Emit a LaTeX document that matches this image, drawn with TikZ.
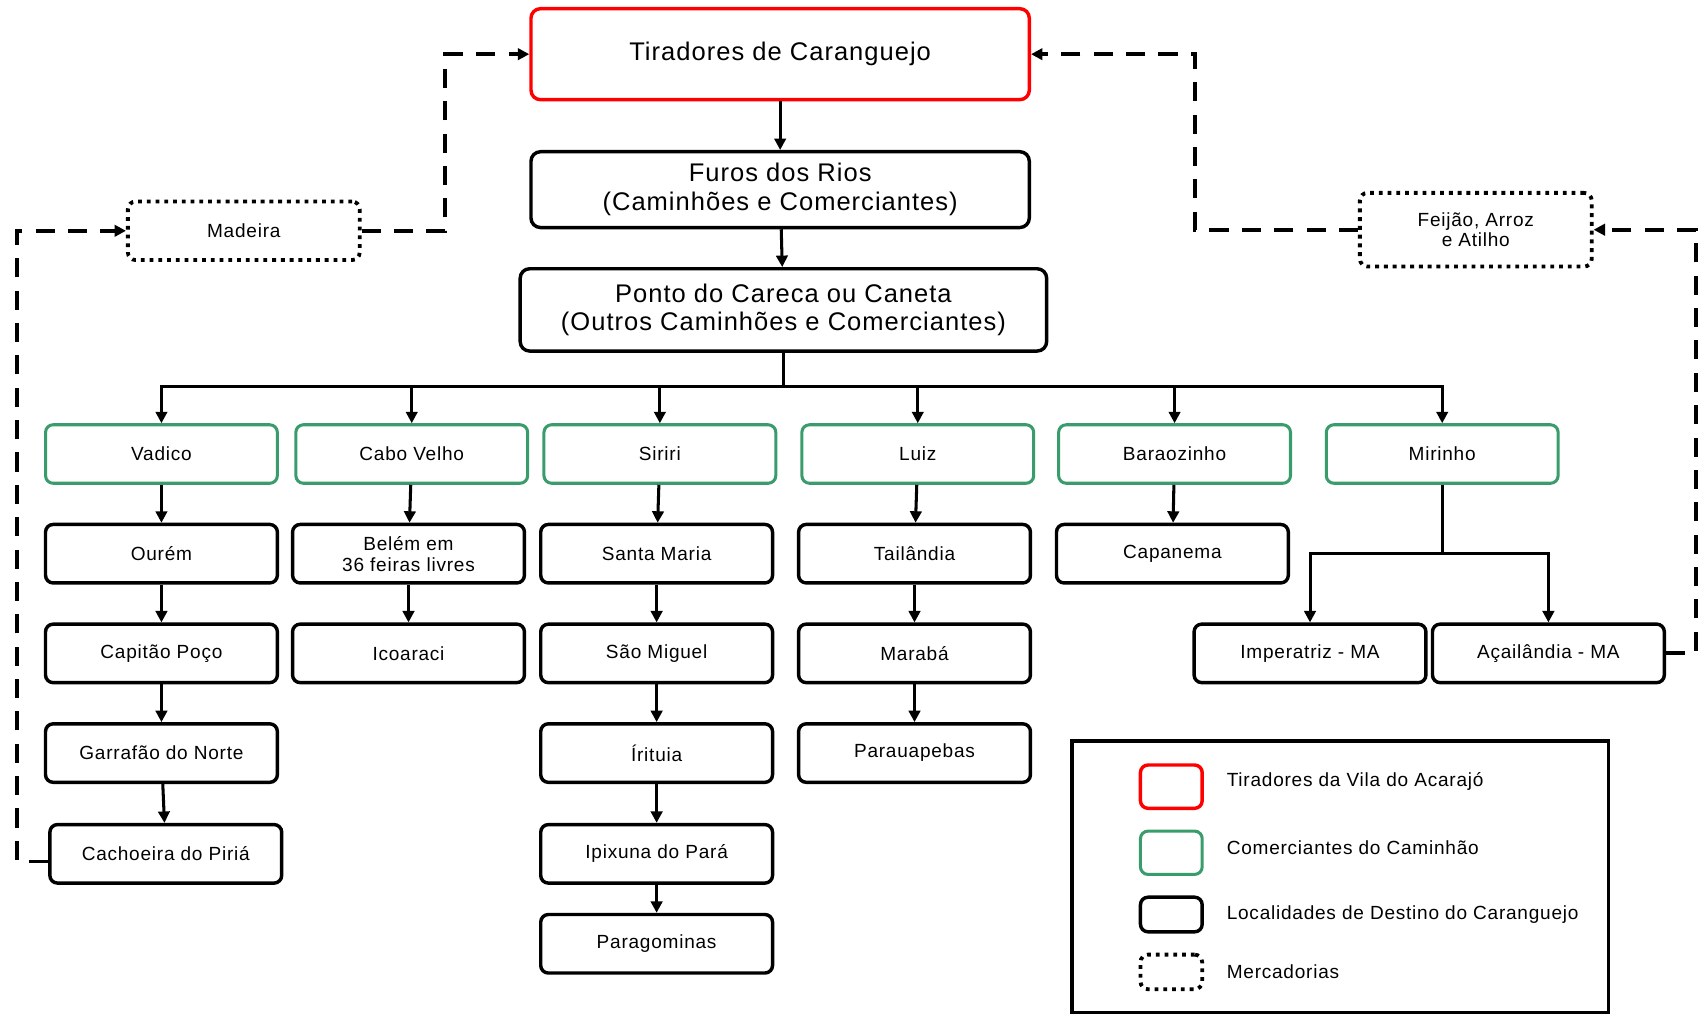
\documentclass[tikz,border=0pt]{standalone}
\usepackage{fontspec}
\setmainfont{Liberation Sans}[LetterSpace=4]
\usepackage{tikz}
\usetikzlibrary{arrows.meta}
\definecolor{tradegreen}{RGB}{58,156,108}

\begin{document}
\begin{tikzpicture}[x=0.02cm, y=-0.02cm,
	place/.style={draw=black, line width=1.8pt, rounded corners=4pt, minimum width=4.28cm, minimum height=1.08cm, align=center, font=\fontsize{10}{11}\selectfont},
	trader/.style={place, draw=tradegreen, line width=1.6pt},
	hub/.style={place, rounded corners=5pt, minimum width=9.2cm, minimum height=1.4cm, font=\fontsize{13.4}{15}\selectfont},
	goods/.style={place, line width=2pt, dash pattern=on 2pt off 2.6pt},
	flow/.style={-{Triangle[length=6pt,width=6pt]}, line width=1.6pt},
	trade/.style={-{Triangle[length=6pt,width=6pt]}, line width=2pt, dash pattern=on 10pt off 7pt},
	key/.style={anchor=west, font=\fontsize{10}{11}\selectfont}]

	\useasboundingbox (0,0) rectangle (1568,936);

	\node[hub, draw=red, line width=1.8pt, minimum height=1.68cm] (tir) at (720, 50) {Tiradores de Caranguejo};
	\node[hub] (furos) at (720, 175) {Furos dos Rios\\(Caminhões e Comerciantes)};
	\node[hub, minimum width=9.72cm, minimum height=1.52cm] (ponto) at (723, 286) {Ponto do Careca ou Caneta\\(Outros Caminhões e Comerciantes)};

	\node[goods] (mad) at (225, 213) {Madeira};
	\node[goods, minimum height=1.36cm] (fei) at (1362, 212) {Feijão, Arroz\\e Atilho};

	\node[trader] (vad) at (149, 419) {Vadico};
	\node[trader] (cabo) at (380, 419) {Cabo Velho};
	\node[trader] (sir) at (609, 419) {Siriri};
	\node[trader] (luiz) at (847, 419) {Luiz};
	\node[trader] (bar) at (1084, 419) {Baraozinho};
	\node[trader] (mir) at (1331, 419) {Mirinho};

	\node[place] (our) at (149, 511) {Ourém};
	\node[place] (bel) at (377, 511) {Belém em\\36 feiras livres};
	\node[place] (sta) at (606, 511) {Santa Maria};
	\node[place] (tai) at (844, 511) {Tailândia};
	\node[place] (cpn) at (1082, 511) {Capanema};

	\node[place] (cpp) at (149, 603) {Capitão Poço};
	\node[place] (ico) at (377, 603) {Icoaraci};
	\node[place] (sao) at (606, 603) {São Miguel};
	\node[place] (mab) at (844, 603) {Marabá};
	\node[place] (imp) at (1209, 603) {Imperatriz - MA};
	\node[place] (aca) at (1429, 603) {Açailândia - MA};

	\node[place] (gar) at (149, 695) {Garrafão do Norte};
	\node[place] (iri) at (606, 695) {Írituia};
	\node[place] (pau) at (844, 695) {Parauapebas};

	\node[place] (cac) at (153, 788) {Cachoeira do Piriá};
	\node[place] (ipi) at (606, 788) {Ipixuna do Pará};

	\node[place] (pgm) at (606, 871) {Paragominas};

	% trunk and branches
	\coordinate (bus) at (723, 357);
	\coordinate (mirj) at (1331, 511);
	\path[flow] (tir) edge (furos);
	\path[flow] (furos) edge (ponto);
	\draw[line width=1.6pt] (ponto) -- (bus);
	\foreach \t in {vad, cabo, sir, luiz, bar, mir}
		\draw[flow] (bus) -| (\t);
	\draw[line width=1.6pt] (mir) -- (mirj);
	\draw[flow] (mirj) -| (imp);
	\draw[flow] (mirj) -| (aca);

	\path[flow] (vad) edge (our);
	\path[flow] (our) edge (cpp);
	\path[flow] (cpp) edge (gar);
	\path[flow] (gar) edge (cac);
	\path[flow] (cabo) edge (bel);
	\path[flow] (bel) edge (ico);
	\path[flow] (sir) edge (sta);
	\path[flow] (sta) edge (sao);
	\path[flow] (sao) edge (iri);
	\path[flow] (iri) edge (ipi);
	\path[flow] (ipi) edge (pgm);
	\path[flow] (luiz) edge (tai);
	\path[flow] (tai) edge (mab);
	\path[flow] (mab) edge (pau);
	\path[flow] (bar) edge (cpn);

	% goods going back
	\coordinate (lft) at (16, 795);
	\coordinate (madj) at (411, 213);
	\coordinate (rgt) at (1565, 603);
	\coordinate (feij) at (1103, 212);
	\draw[trade] (cac.west |- lft) -- (lft) |- (mad.west);
	\draw[trade] (mad.east) -- (madj) |- (tir.west);
	\draw[trade] (aca.east) -- (rgt) |- (fei.east);
	\draw[trade] (fei.west) -- (feij) |- (tir.east);

	% legend
	\node[draw, line width=2pt, minimum width=9.9cm, minimum height=5.02cm] (leg) at (1237, 809) {};
	\node[place, draw=red, minimum width=1.14cm, minimum height=0.8cm] (k1) at (1081, 726) {};
	\node[trader, minimum width=1.14cm, minimum height=0.8cm] (k2) at (1081, 787) {};
	\node[place, minimum width=1.14cm, minimum height=0.64cm] (k3) at (1081, 844) {};
	\node[goods, minimum width=1.14cm, minimum height=0.64cm] (k4) at (1081, 897) {};
	\node[key] (t1) at (1126, 721) {Tiradores da Vila do Acarajó};
	\node[key] (t2) at (1126, 782) {Comerciantes do Caminhão};
	\node[key] (t3) at (1126, 844) {Localidades de Destino do Caranguejo};
	\node[key] (t4) at (1126, 897) {Mercadorias};

\end{tikzpicture}
\end{document}
